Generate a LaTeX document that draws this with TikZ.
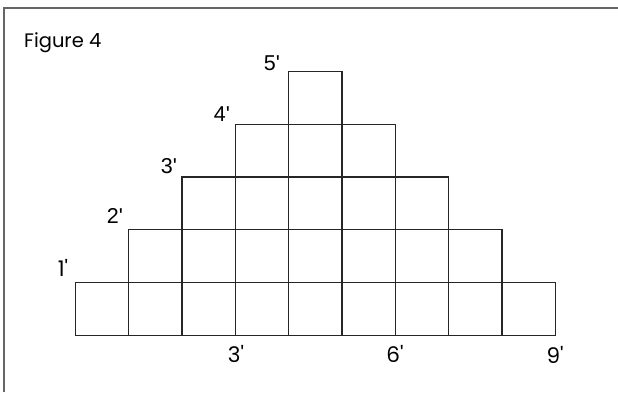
\documentclass[tikz,border=0pt]{standalone}
\usepackage{fontspec}
\setmainfont{Liberation Sans}[Ligatures=TeXOff]
\newfontfamily\arialf{Liberation Sans}[Ligatures=TeXOff]
\newfontfamily\gothic{Poppins}[Ligatures=TeXOff]
\begin{document}
\begin{tikzpicture}[x=1pt,y=-1pt,
  sq/.style={draw=black!85,line width=1.2pt,minimum width=53.33pt,minimum height=52.8pt,inner sep=0pt,anchor=north west},
  arial/.style={font=\arialf\fontsize{21.5}{21.5}\selectfont,inner sep=0pt},
  goth/.style={font=\gothic\fontsize{21.5}{21.5}\selectfont,inner sep=0pt}]
\useasboundingbox (0,0) rectangle (618,392);
\draw[black!60,line width=1.5pt] (4,392) -- (4,8) -- (618,8);
\node[font=\gothic\fontsize{19.5}{19.5}\selectfont,inner sep=0pt,anchor=base west] (title) at (24,47) {Figure 4};
% rows
\foreach \i in {1,...,9} \node[sq] (r1c\i) at ({74.7+53.33*(\i-1)},282) {};
\foreach \i in {2,...,8} \node[sq] (r2c\i) at ({74.7+53.33*(\i-1)},229.2) {};
\foreach \i in {3,...,7} \node[sq] (r3c\i) at ({74.7+53.33*(\i-1)},176.4) {};
\foreach \i in {4,...,6} \node[sq] (r4c\i) at ({74.7+53.33*(\i-1)},123.6) {};
\node[sq] (r5c5) at ({74.7+53.33*4},70.8) {};
% row labels
\node[goth] (l1) at (63,268) {1'};
\node[arial] (l2) at (115,216) {2'};
\node[arial] (l3) at (169,166) {3'};
\node[arial] (l4) at (222,114) {4'};
\node[arial] (l5) at (272,63.5) {5'};
% bottom labels
\node[goth] (b3) at (236,354) {3'};
\node[goth] (b6) at (395,354) {6'};
\node[goth] (b9) at (555,355) {9'};
\end{tikzpicture}
\end{document}
